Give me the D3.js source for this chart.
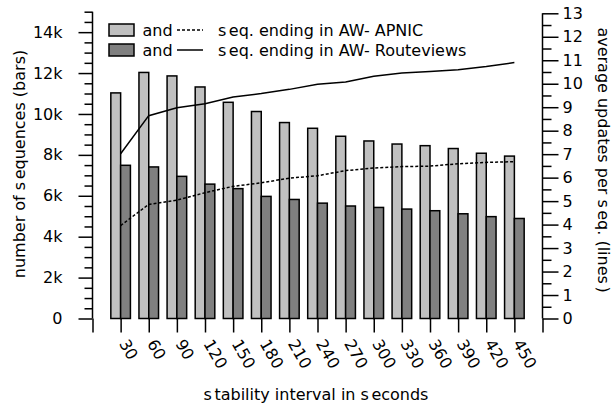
<!DOCTYPE html>
<html><head><meta charset="utf-8">
<script src="https://cdn.jsdelivr.net/npm/d3@7"></script>
<style>body{margin:0;background:#fff}svg{display:block}text{font-family:"DejaVu Sans";fill:#000}</style>
</head><body><svg id="c" width="613" height="406"></svg>
<script>
const categories = [30,60,90,120,150,180,210,240,270,300,330,360,390,420,450];
const apnicBars = [11030,12030,11860,11320,10570,10120,9580,9300,8910,8680,8530,8450,8310,8080,7940];
const routeviewsBars = [7490,7410,6950,6570,6350,5970,5820,5640,5500,5430,5350,5270,5120,4980,4890];
const apnicLine = [3.96,4.86,5.04,5.36,5.63,5.78,5.98,6.08,6.3,6.41,6.47,6.49,6.59,6.65,6.68];
const routeviewsLine = [7.02,8.64,8.98,9.15,9.43,9.58,9.76,9.98,10.07,10.32,10.46,10.52,10.6,10.73,10.9];
const leftTicks = [0,2000,4000,6000,8000,10000,12000,14000];
const leftTickLabels = ["0","2k","4k","6k","8k","10k","12k","14k"];
const rightTicks = [0,1,2,3,4,5,6,7,8,9,10,11,12,13];
const legendLabels = ["seq. ending in AW- APNIC","seq. ending in AW- Routeviews"];

const FS = 16;
const svg = d3.select("#c");
const L = 92.5, R = 542.5, B = 318.5;
const x = d3.scaleLinear().domain([0, categories.length + 1]).range([L, R]);
const yL = d3.scaleLinear().domain([0, 15000]).range([B, 11.7]);
const yR = d3.scaleLinear().domain([0, 13]).range([B, 13.3]);
const bw = 9.8;

// bars
const g = svg.append("g");
g.selectAll(".b1").data(apnicBars).join("rect")
  .attr("x",(d,i)=>x(i+1)-bw).attr("width",bw)
  .attr("y",d=>yL(d)).attr("height",d=>B-yL(d))
  .attr("fill","#c0c0c0").attr("stroke","#000").attr("stroke-width",1.5);
g.selectAll(".b2").data(routeviewsBars).join("rect")
  .attr("x",(d,i)=>x(i+1)).attr("width",bw)
  .attr("y",d=>yL(d)).attr("height",d=>B-yL(d))
  .attr("fill","#808080").attr("stroke","#000").attr("stroke-width",1.5);

// lines
const line = d3.line().x((d,i)=>x(i+1)).y(d=>yR(d));
svg.append("path").attr("d",line(apnicLine)).attr("fill","none").attr("stroke","#000")
  .attr("stroke-width",1.5).attr("stroke-dasharray","3,2");
svg.append("path").attr("d",line(routeviewsLine)).attr("fill","none").attr("stroke","#000")
  .attr("stroke-width",1.5);

// left axis
const minorL = d3.range(0, 15001, 500).filter(v=>v%2000!==0);
const axL = svg.append("g").attr("transform",`translate(${L},0)`);
axL.call(d3.axisLeft(yL).tickValues(minorL).tickSize(8).tickFormat(""));
axL.call(g2=>g2.select(".domain").remove());
const axL2 = svg.append("g").attr("transform",`translate(${L},0)`)
  .call(d3.axisLeft(yL).tickValues(leftTicks).tickSize(14).tickPadding(16)
  .tickFormat((d,i)=>leftTickLabels[i]));
axL2.select(".domain").attr("d",`M0,${yL(15000)}V${B}`);
// right axis
const minorR = d3.range(0.5, 13, 1);
const axR = svg.append("g").attr("transform",`translate(${R},0)`);
axR.call(d3.axisRight(yR).tickValues(minorR).tickSize(9).tickFormat(""));
axR.call(g2=>g2.select(".domain").remove());
const axR2 = svg.append("g").attr("transform",`translate(${R},0)`)
  .call(d3.axisRight(yR).tickValues(rightTicks).tickSize(16).tickPadding(4).tickFormat(d3.format("d")));
axR2.select(".domain").attr("d",`M0,${yR(13)}V${B}`);
// bottom axis
const axB = svg.append("g").attr("transform",`translate(0,${B})`)
  .call(d3.axisBottom(x).tickValues(d3.range(0, categories.length+2)).tickSize(14).tickFormat(""));
axB.select(".domain").attr("d",`M${L}V0H${R}`);
svg.selectAll(".tick line, .domain").attr("stroke","#000").attr("stroke-width",1.5);
svg.selectAll(".tick text").attr("font-size",FS).attr("font-family","DejaVu Sans").attr("fill","#000");

svg.append("g").selectAll("text").data(categories).join("text")
  .attr("transform",(d,i)=>`translate(${x(i+1)-2},${B+25}) rotate(60)`)
  .attr("font-size",FS).text(d=>d);

// titles
function gapText(sel, parts){ parts.forEach((p,i)=>sel.append("tspan").attr("dx",i?2.5:0).text(p)); return sel; }
gapText(svg.append("text").attr("x",316).attr("y",400).attr("text-anchor","middle").attr("font-size",FS),
  ["s","tability interval in s","econds"]);
gapText(svg.append("text").attr("transform","translate(25,164) rotate(-90)").attr("text-anchor","middle").attr("font-size",FS),
  ["number of s","equences (bars)"]);
gapText(svg.append("text").attr("transform","translate(598,160) rotate(90)").attr("text-anchor","middle").attr("font-size",FS),
  ["average updates per s","eq. (lines",")"]);

// legend
const fills = ["#c0c0c0","#808080"];
[0,1].forEach(i=>{
  const cy = 30 + i*20;
  svg.append("rect").attr("x",109).attr("y",cy-6).attr("width",25).attr("height",12)
    .attr("fill",fills[i]).attr("stroke","#000").attr("stroke-width",1.5);
  svg.append("text").attr("x",142.5).attr("y",cy+6).attr("font-size",FS).text("and");
  svg.append("line").attr("x1",177).attr("x2",203).attr("y1",cy).attr("y2",cy)
    .attr("stroke","#000").attr("stroke-width",1.5).attr("stroke-dasharray",i===0?"3,2":null);
  gapText(svg.append("text").attr("x",218).attr("y",cy+6).attr("font-size",FS),
    ["s", legendLabels[i].slice(1)]);
});
</script></body></html>
